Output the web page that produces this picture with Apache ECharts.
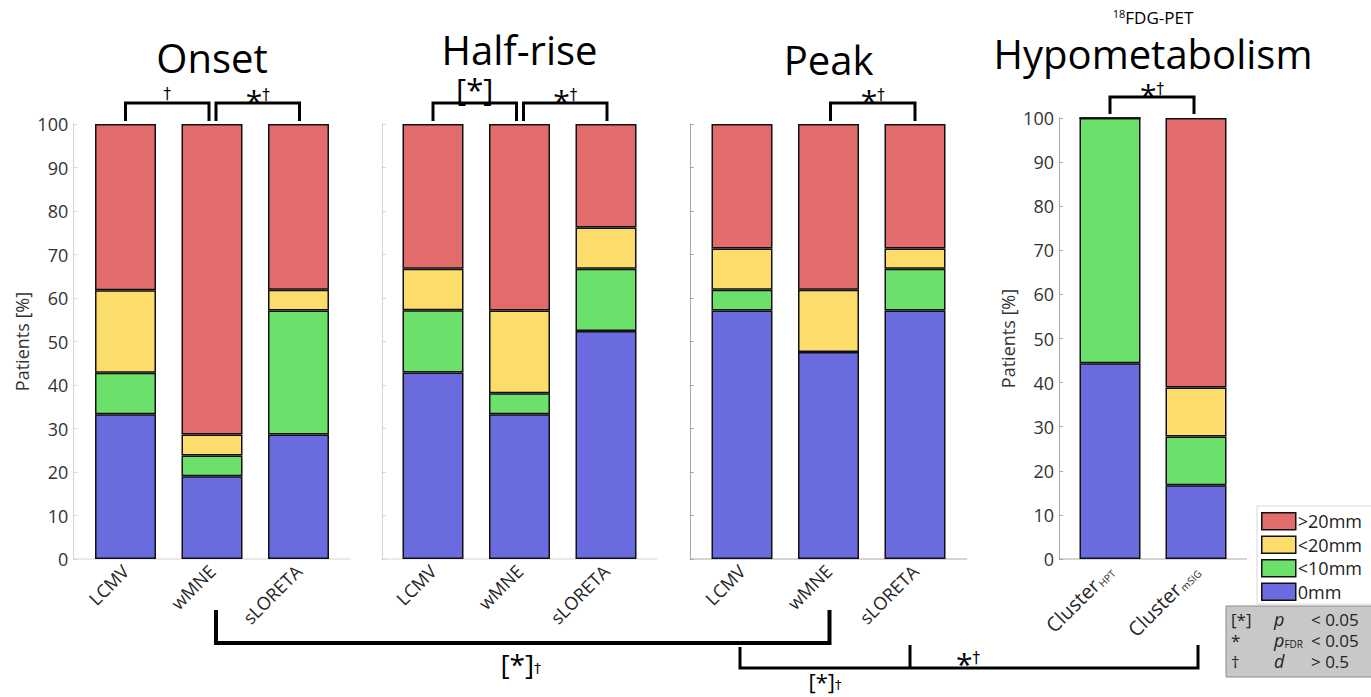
<!DOCTYPE html>
<html><head><meta charset="utf-8">
<script src="https://cdn.jsdelivr.net/npm/echarts@6/dist/echarts.min.js"></script>
<style>html,body{margin:0;padding:0;background:#fff}#c{width:1371px;height:697px}</style>
</head><body><div id="c"></div>
<script>
// ---- data ----
const methods = ['LCMV', 'wMNE', 'sLORETA'];
const clusterNames = ['Cluster', 'Cluster'];
const clusterSubs = ['HPT', 'mSIG'];
const panelTitles = ['Onset', 'Half-rise', 'Peak', 'Hypometabolism'];
const classNames = ['0mm', '<10mm', '<20mm', '>20mm'];
const legendOrder = ['>20mm', '<20mm', '<10mm', '0mm'];
const yTicks = [0, 10, 20, 30, 40, 50, 60, 70, 80, 90, 100];

const onsetZero = [33.3, 19.0, 28.6];
const onsetLt10 = [9.5, 4.8, 28.5];
const onsetLt20 = [19.0, 4.8, 4.8];
const onsetGt20 = [38.2, 71.4, 38.1];

const halfZero = [42.9, 33.3, 52.4];
const halfLt10 = [14.3, 4.8, 14.3];
const halfLt20 = [9.5, 19.0, 9.5];
const halfGt20 = [33.3, 42.9, 23.8];

const peakZero = [57.1, 47.6, 57.1];
const peakLt10 = [4.8, 0, 9.6];
const peakLt20 = [9.5, 14.3, 4.7];
const peakGt20 = [28.6, 38.1, 28.6];

const hypoZero = [44.4, 16.7];
const hypoLt10 = [55.6, 11.1];
const hypoLt20 = [0, 11.1];
const hypoGt20 = [0, 61.1];

// ---- styling ----
const FONT = 'Open Sans';
const colors = ['#6B6BE0', '#6BE06B', '#FCDD6B', '#E26C6C'];
const gridDefs = [
  {left: 82.25, top: 124, width: 259.5, height: 435, axisOffset: 9},
  {left: 389.75, top: 124, width: 259.5, height: 435, axisOffset: 8},
  {left: 698.75, top: 124, width: 259.5, height: 435, axisOffset: 9},
  {left: 1067, top: 118, width: 172, height: 441, axisOffset: 8}
];
const axisColors = ['#d4d4d4', '#d4d4d4', '#a8a8a8', '#a8a8a8'];

const panelData = [
  [onsetZero, onsetLt10, onsetLt20, onsetGt20],
  [halfZero, halfLt10, halfLt20, halfGt20],
  [peakZero, peakLt10, peakLt20, peakGt20],
  [hypoZero, hypoLt10, hypoLt20, hypoGt20]
];

const chart = echarts.init(document.getElementById('c'), null, {renderer: 'svg'});

const grids = gridDefs.map(g => ({left: g.left, top: g.top, width: g.width, height: g.height}));
const xAxes = [], yAxes = [], series = [];
panelData.forEach((arrs, g) => {
  const cats = g < 3 ? methods : clusterNames.map((c, i) => '{c|' + c + '}{s|' + clusterSubs[i] + '}');
  xAxes.push({
    type: 'category', gridIndex: g, data: cats, boundaryGap: true,
    axisLine: {show: false},
    axisTick: {show: false},
    axisLabel: {
      rotate: 45, margin: 9, fontFamily: FONT, fontSize: 18, color: '#262626', interval: 0,
      rich: {
        c: {fontFamily: FONT, fontSize: 20, color: '#262626'},
        s: {fontFamily: FONT, fontSize: 10, color: '#262626', verticalAlign: 'bottom', padding: [10, 0, 0, 1]}
      }
    }
  });
  const showLabels = (g === 0 || g === 3);
  yAxes.push({
    type: 'value', gridIndex: g, min: yTicks[0], max: yTicks[yTicks.length - 1], interval: 10,
    offset: gridDefs[g].axisOffset,
    splitLine: {show: false},
    axisLine: {show: true, lineStyle: {color: axisColors[g], width: 1}},
    axisTick: {show: true, inside: true, length: 4, lineStyle: {color: axisColors[g]}},
    axisLabel: {show: showLabels, fontFamily: FONT, fontSize: 18, color: '#333', margin: 5},
    name: showLabels ? 'Patients [%]' : '',
    nameLocation: 'middle', nameRotate: 90, nameGap: 42,
    nameTextStyle: {fontFamily: FONT, fontSize: 18, color: '#333'}
  });
  arrs.forEach((arr, k) => {
    series.push({
      type: 'bar', name: classNames[k], xAxisIndex: g, yAxisIndex: g, stack: 'p' + g,
      barWidth: 61, clip: false, silent: true,
      data: arr,
      itemStyle: {color: colors[k], borderColor: '#111', borderWidth: 1.5}
    });
  });
});

chart.setOption({
  animation: false,
  backgroundColor: '#fff',
  grid: grids, xAxis: xAxes, yAxis: yAxes, series: series,
  legend: {
    data: legendOrder, orient: 'vertical', left: 1257, top: 506,
    itemWidth: 34, itemHeight: 17, itemGap: 5, icon: 'rect',
    backgroundColor: '#fff', borderColor: '#d8d8d8', borderWidth: 1,
    padding: [6, 12, 3, 4], selectedMode: false,
    itemStyle: {borderColor: '#111', borderWidth: 1.5},
    textStyle: {fontFamily: FONT, fontSize: 18, color: '#222', padding: [0, 0, 0, -3]}
  }
});

// ---- annotations computed from the axes ----
const px = (g, i) => chart.convertToPixel({xAxisIndex: g}, i);
const gfx = [];
const line = (pts, w, col) => gfx.push({type: 'polyline', silent: true, z: 0, shape: {points: pts}, style: {stroke: col || '#000', lineWidth: w, fill: null, lineJoin: 'miter'}});
const txt = (x, y, text, rich, size, extra) => gfx.push({type: 'text', silent: true, x: x, y: y,
  style: Object.assign({text: text, fontFamily: FONT, fontSize: size || 18, fill: '#000', align: 'center', verticalAlign: 'middle', rich: rich || {}}, extra || {})});
const DAG = 'DejaVu Sans';
const starDag = {a: {fontSize: 30, lineHeight: 26, fontFamily: FONT, fill: '#000', padding: [10, 0, 0, 0]}, d: {fontSize: 15, fontFamily: DAG, fill: '#000'}};

// bottom axis lines spanning from the y axis to the plot's right edge
gridDefs.forEach((g, i) => {
  const yb = g.top + g.height;
  line([[g.left - g.axisOffset, yb], [g.left + g.width + g.axisOffset, yb]], 1, axisColors[i]);
});

function topBracket(g, i1, d1, i2, d2, yH, yB) {
  const x1 = px(g, i1) + d1, x2 = px(g, i2) + d2;
  line([[x1, yB], [x1, yH], [x2, yH], [x2, yB]], 3);
  return (x1 + x2) / 2;
}
// Onset
let m = topBracket(0, 0, 0, 1, -3, 103, 121);
txt(m, 94, '†', null, 15, {fontFamily: DAG});
m = topBracket(0, 1, 4, 2, 1, 103, 121);
txt(m, 95, '{a|*}{d|†}', starDag);
// Half-rise
m = topBracket(1, 0, 0, 1, -3, 103, 121);
txt(m, 89, '[*]', null, 31, {lineHeight: 30});
m = topBracket(1, 1, 4, 2, 1, 103, 121);
txt(m, 95, '{a|*}{d|†}', starDag);
// Peak
m = topBracket(2, 1, 2, 2, 0, 103, 121);
txt(m, 95, '{a|*}{d|†}', starDag);
// Hypometabolism
m = topBracket(3, 0, 0, 1, -2, 97, 114);
txt(m, 89, '{a|*}{d|†}', starDag);

// bottom comparisons
const a1 = px(0, 1) + 4, a2 = px(2, 1) + 1;
line([[a1, 610], [a1, 643], [a2, 643], [a2, 610]], 4);
const brDag = {b: {fontSize: 28, fontFamily: FONT, fill: '#000'}, d: {fontSize: 14, fontFamily: DAG, fill: '#000', padding: [8, 0, 0, 0]}};
txt((a1 + a2) / 2 - 2, 664, '{b|[*]}{d|†}', brDag);
const b1 = px(2, 0) - 2, b2 = px(2, 2) - 5, b3 = px(3, 1) + 2;
line([[b1, 647], [b1, 668], [b3, 668], [b3, 645]], 3);
line([[b2, 645], [b2, 668]], 3);
txt((b1 + b2) / 2, 681, '{b|[*]}{d|†}', {b: {fontSize: 22, lineHeight: 20, fontFamily: FONT, fill: '#000'}, d: {fontSize: 13, lineHeight: 13, fontFamily: DAG, fill: '#000', padding: [6, 0, 0, 0]}});
txt(968, 658, '{a|*}{d|†}', starDag);

// titles
const titleX = [px(0, 1), px(1, 1), px(2, 1), (px(3, 0) + px(3, 1)) / 2];
const titleY = [57, 49, 59, 53];
panelTitles.forEach((t, i) => txt(titleX[i], titleY[i], t, null, 40, {lineHeight: 34}));
txt(titleX[3], 17, '{s|18}{n|FDG-PET}', {s: {fontSize: 11, fontFamily: FONT, fill: '#000', padding: [0, 0, 8, 0]}, n: {fontSize: 17, fontFamily: FONT, fill: '#000'}});

// significance key box
gfx.push({type: 'rect', silent: true, shape: {x: 1226, y: 606, width: 150, height: 71}, style: {fill: '#c8c8c8', stroke: '#8c8c8c', lineWidth: 1}});
const keySym = ['[*]', '*', '†'];
const keyStat = ['{i|p}', '{i|p}{s|FDR}', '{i|d}'];
const keyThr = ['< 0.05', '< 0.05', '> 0.5'];
const keyRich = {i: {fontStyle: 'italic', fontSize: 18, fontFamily: FONT, fill: '#222'}, s: {fontSize: 10, fontFamily: FONT, fill: '#222', padding: [8, 0, 0, 0]}};
[619, 640, 661].forEach((y, r) => {
  txt(1231, y, keySym[r], null, 17, {align: 'left', fill: '#222'});
  txt(1274, y, keyStat[r], keyRich, 17, {align: 'left', fill: '#222'});
  txt(1311, y, keyThr[r], null, 17, {align: 'left', fill: '#222'});
});

chart.setOption({graphic: gfx});
</script></body></html>
